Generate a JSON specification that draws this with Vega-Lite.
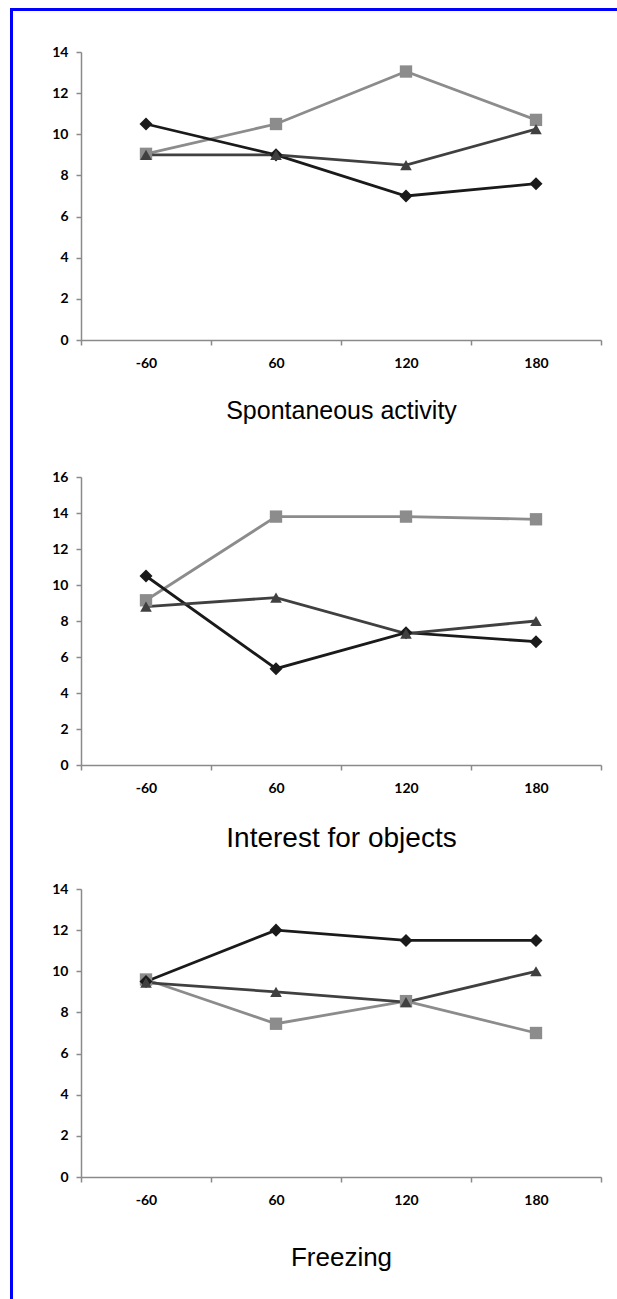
{
  "$schema": "https://vega.github.io/schema/vega-lite/v6.json",
  "padding": {"left": 10, "top": 8, "right": 0, "bottom": 0},
  "background": "white",
  "data": {"values": [
    {"panel": "Spontaneous activity", "series": "B", "time": -60, "value": 9.05},
    {"panel": "Spontaneous activity", "series": "B", "time": 60, "value": 10.5},
    {"panel": "Spontaneous activity", "series": "B", "time": 120, "value": 13.05},
    {"panel": "Spontaneous activity", "series": "B", "time": 180, "value": 10.7},
    {"panel": "Spontaneous activity", "series": "A", "time": -60, "value": 10.5},
    {"panel": "Spontaneous activity", "series": "A", "time": 60, "value": 9.0},
    {"panel": "Spontaneous activity", "series": "A", "time": 120, "value": 7.0},
    {"panel": "Spontaneous activity", "series": "A", "time": 180, "value": 7.6},
    {"panel": "Spontaneous activity", "series": "C", "time": -60, "value": 9.0},
    {"panel": "Spontaneous activity", "series": "C", "time": 60, "value": 9.0},
    {"panel": "Spontaneous activity", "series": "C", "time": 120, "value": 8.5},
    {"panel": "Spontaneous activity", "series": "C", "time": 180, "value": 10.25},
    {"panel": "Interest for objects", "series": "B", "time": -60, "value": 9.15},
    {"panel": "Interest for objects", "series": "B", "time": 60, "value": 13.8},
    {"panel": "Interest for objects", "series": "B", "time": 120, "value": 13.8},
    {"panel": "Interest for objects", "series": "B", "time": 180, "value": 13.65},
    {"panel": "Interest for objects", "series": "A", "time": -60, "value": 10.5},
    {"panel": "Interest for objects", "series": "A", "time": 60, "value": 5.35},
    {"panel": "Interest for objects", "series": "A", "time": 120, "value": 7.35},
    {"panel": "Interest for objects", "series": "A", "time": 180, "value": 6.85},
    {"panel": "Interest for objects", "series": "C", "time": -60, "value": 8.8},
    {"panel": "Interest for objects", "series": "C", "time": 60, "value": 9.3},
    {"panel": "Interest for objects", "series": "C", "time": 120, "value": 7.3},
    {"panel": "Interest for objects", "series": "C", "time": 180, "value": 8.0},
    {"panel": "Freezing", "series": "B", "time": -60, "value": 9.6},
    {"panel": "Freezing", "series": "B", "time": 60, "value": 7.45},
    {"panel": "Freezing", "series": "B", "time": 120, "value": 8.55},
    {"panel": "Freezing", "series": "B", "time": 180, "value": 7.0},
    {"panel": "Freezing", "series": "A", "time": -60, "value": 9.5},
    {"panel": "Freezing", "series": "A", "time": 60, "value": 12.0},
    {"panel": "Freezing", "series": "A", "time": 120, "value": 11.5},
    {"panel": "Freezing", "series": "A", "time": 180, "value": 11.5},
    {"panel": "Freezing", "series": "C", "time": -60, "value": 9.45},
    {"panel": "Freezing", "series": "C", "time": 60, "value": 9.0},
    {"panel": "Freezing", "series": "C", "time": 120, "value": 8.5},
    {"panel": "Freezing", "series": "C", "time": 180, "value": 10.0}
  ]},
  "spacing": 0,
  "hconcat": [
    {"data": {"values": []}, "mark": "point", "width": 3, "height": 1291, "view": {"fill": "#0000ff", "stroke": null}},
    {
      "spacing": 34,
      "vconcat": [
        {"data": {"values": []}, "mark": "point", "width": 604, "height": 3, "view": {"fill": "#0000ff", "stroke": null}},
        {
          "spacing": 37,
          "hconcat": [
            {"data": {"values": []}, "mark": "point", "width": 1, "height": 1},
            {
              "spacing": 30,
              "vconcat": [
                {
                  "spacing": 47,
                  "vconcat": [
                    {
                      "width": 520, "height": 288,
                      "transform": [{"filter": "datum.panel === 'Spontaneous activity'"}],
                      "encoding": {
                        "x": {"field": "time", "type": "ordinal", "scale": {"type": "band", "paddingInner": 0, "paddingOuter": 0},
                              "axis": {"title": "Spontaneous activity", "titleFontSize": 25, "titlePadding": 28, "tickBand": "extent", "labelAngle": 0, "labelPadding": 11}},
                        "y": {"field": "value", "type": "quantitative", "scale": {"domain": [0, 14], "nice": false},
                              "axis": {"values": [0, 2, 4, 6, 8, 10, 12, 14], "title": null, "labelPadding": 8}},
                        "color": {"field": "series", "type": "nominal", "scale": {"domain": ["A", "B", "C"], "range": ["#1a1a1a", "#8c8c8c", "#404040"]}, "legend": null}
                      },
                      "layer": [
                        {"mark": {"type": "line", "strokeWidth": 2.8}},
                        {"mark": {"type": "point", "filled": true, "opacity": 1},
                         "encoding": {
                           "shape": {"field": "series", "type": "nominal", "scale": {"domain": ["A", "B", "C"], "range": ["diamond", "square", "triangle-up"]}, "legend": null},
                           "size": {"field": "series", "type": "ordinal", "scale": {"domain": ["A", "B", "C"], "range": [170, 135, 200]}, "legend": null}
                         }}
                      ]
                    },
                    {
                      "width": 520, "height": 288,
                      "transform": [{"filter": "datum.panel === 'Interest for objects'"}],
                      "encoding": {
                        "x": {"field": "time", "type": "ordinal", "scale": {"type": "band", "paddingInner": 0, "paddingOuter": 0},
                              "axis": {"title": "Interest for objects", "titleFontSize": 28, "titlePadding": 29, "tickBand": "extent", "labelAngle": 0, "labelPadding": 11}},
                        "y": {"field": "value", "type": "quantitative", "scale": {"domain": [0, 16], "nice": false},
                              "axis": {"values": [0, 2, 4, 6, 8, 10, 12, 14, 16], "title": null, "labelPadding": 8}},
                        "color": {"field": "series", "type": "nominal", "scale": {"domain": ["A", "B", "C"], "range": ["#1a1a1a", "#8c8c8c", "#404040"]}, "legend": null}
                      },
                      "layer": [
                        {"mark": {"type": "line", "strokeWidth": 2.8}},
                        {"mark": {"type": "point", "filled": true, "opacity": 1},
                         "encoding": {
                           "shape": {"field": "series", "type": "nominal", "scale": {"domain": ["A", "B", "C"], "range": ["diamond", "square", "triangle-up"]}, "legend": null},
                           "size": {"field": "series", "type": "ordinal", "scale": {"domain": ["A", "B", "C"], "range": [170, 135, 200]}, "legend": null}
                         }}
                      ]
                    }
                  ]
                },
                {
                  "vconcat": [
                    {
                      "width": 520, "height": 288,
                      "transform": [{"filter": "datum.panel === 'Freezing'"}],
                      "encoding": {
                        "x": {"field": "time", "type": "ordinal", "scale": {"type": "band", "paddingInner": 0, "paddingOuter": 0},
                              "axis": {"title": "Freezing", "titleFontSize": 26, "titlePadding": 37, "tickBand": "extent", "labelAngle": 0, "labelPadding": 11}},
                        "y": {"field": "value", "type": "quantitative", "scale": {"domain": [0, 14], "nice": false},
                              "axis": {"values": [0, 2, 4, 6, 8, 10, 12, 14], "title": null, "labelPadding": 8}},
                        "color": {"field": "series", "type": "nominal", "scale": {"domain": ["A", "B", "C"], "range": ["#1a1a1a", "#8c8c8c", "#404040"]}, "legend": null}
                      },
                      "layer": [
                        {"mark": {"type": "line", "strokeWidth": 2.8}},
                        {"mark": {"type": "point", "filled": true, "opacity": 1},
                         "encoding": {
                           "shape": {"field": "series", "type": "nominal", "scale": {"domain": ["A", "B", "C"], "range": ["diamond", "square", "triangle-up"]}, "legend": null},
                           "size": {"field": "series", "type": "ordinal", "scale": {"domain": ["A", "B", "C"], "range": [170, 135, 200]}, "legend": null}
                         }}
                      ]
                    }
                  ]
                }
              ]
            }
          ]
        }
      ]
    }
  ],
  "config": {
    "view": {"stroke": null},
    "axis": {
      "domainColor": "#8a8a8a", "tickColor": "#8a8a8a", "domainWidth": 1.5, "tickWidth": 1.5, "tickSize": 5,
      "labelFont": "Lato", "labelFontSize": 14, "labelFontWeight": "bold", "labelColor": "#000000",
      "titleFont": "Liberation Sans", "titleFontWeight": "normal", "titleColor": "#000000",
      "grid": false, "labelOverlap": false
    }
  }
}
